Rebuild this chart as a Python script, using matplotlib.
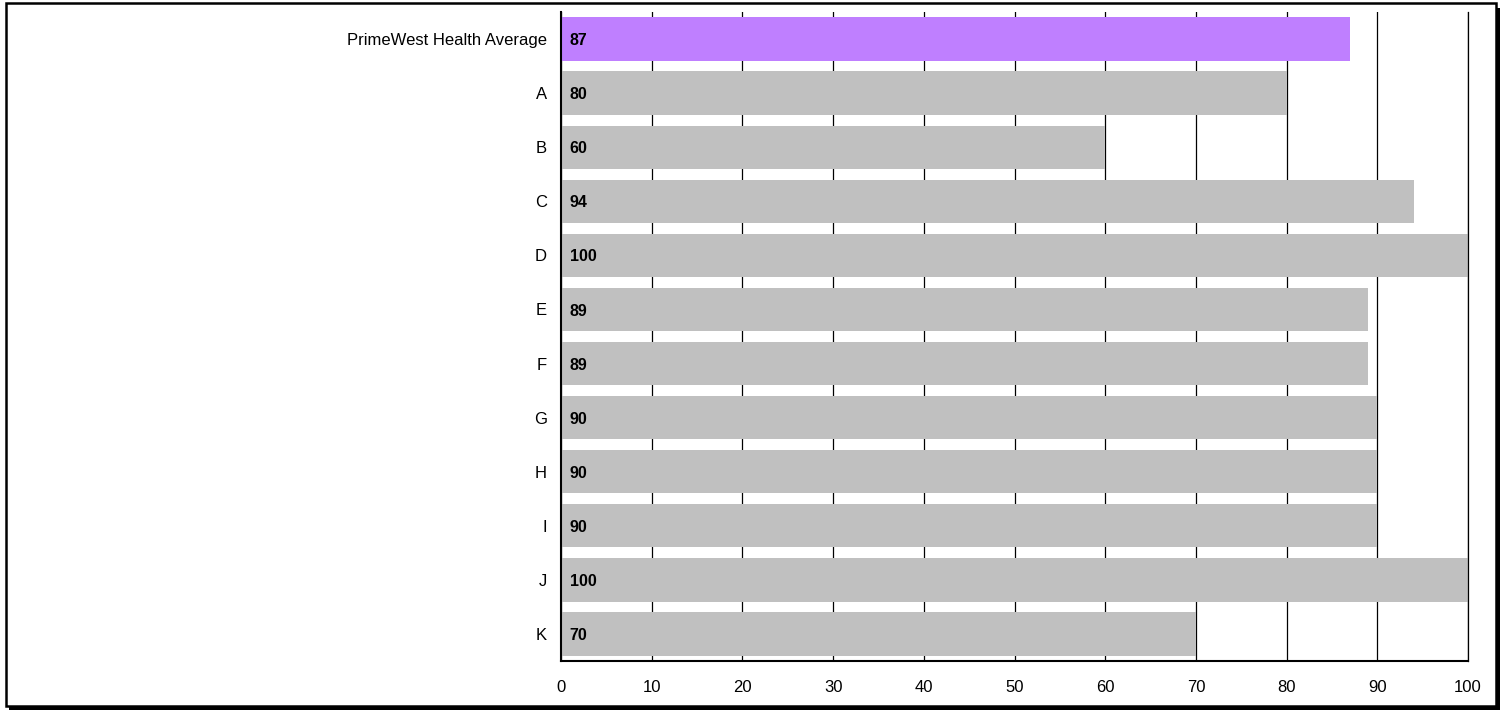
import matplotlib
matplotlib.use("Agg")
import matplotlib.pyplot as plt
from matplotlib.patches import Rectangle

categories = ["PrimeWest Health Average", "A", "B", "C", "D", "E", "F", "G", "H", "I", "J", "K"]
values = [87, 80, 60, 94, 100, 89, 89, 90, 90, 90, 100, 70]
bar_colors = ["#BF7FFF"] + ["#C0C0C0"] * 11
x_ticks = [0, 10, 20, 30, 40, 50, 60, 70, 80, 90, 100]

plt.rcParams["font.family"] = ["Liberation Sans", "DejaVu Sans"]

W, H = 1502, 713
fig = plt.figure(figsize=(W / 100, H / 100), dpi=100)
ax = fig.add_axes([561 / W, 1 - 661 / H, (1468 - 561) / W, (661 - 12) / H])

pos = list(range(len(categories)))
ax.barh(pos, values, height=0.8, color=bar_colors, zorder=2)
for p, v in zip(pos, values):
    ax.text(0.95, p + 0.03, f"{v}", ha="left", va="center", fontsize=11.5,
            fontweight="bold", color="black", zorder=3)

ax.set_xlim(0, 100)
ax.set_ylim(len(categories) - 0.5, -0.5)
ax.set_yticks(pos)
ax.set_yticklabels(categories, fontsize=12)
ax.set_xticks(x_ticks)
ax.set_xticklabels([str(t) for t in x_ticks], fontsize=12)
ax.tick_params(axis="both", length=0)
ax.tick_params(axis="y", pad=10)
ax.tick_params(axis="x", pad=14)
ax.xaxis.grid(True, color="black", linewidth=0.9, zorder=1)
ax.set_axisbelow(True)
ax.spines["top"].set_visible(False)
ax.spines["right"].set_linewidth(0.9)
ax.spines["left"].set_linewidth(1.5)
ax.spines["bottom"].set_linewidth(1.5)

# framed border with a drop shadow on the right and bottom
fig.patches.append(Rectangle((9 / W, 1 - 710 / H), (1500 - 9) / W, (710 - 8) / H,
                             transform=fig.transFigure, facecolor="black",
                             edgecolor="none", zorder=-2))
fig.patches.append(Rectangle((6 / W, 1 - 706 / H), (1496 - 6) / W, (706 - 3) / H,
                             transform=fig.transFigure, facecolor="white",
                             edgecolor="black", linewidth=1.8, zorder=-1))

fig.savefig("out.png", dpi=100)
